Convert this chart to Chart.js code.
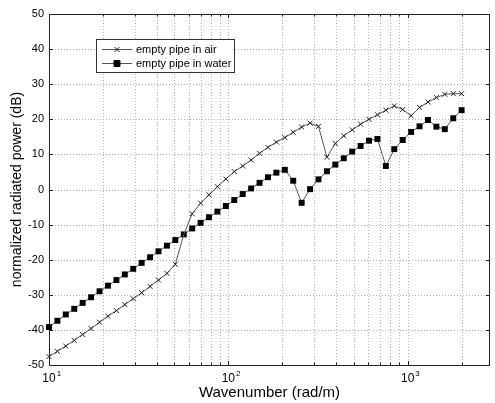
<!DOCTYPE html>
<html>
<head>
<meta charset="utf-8">
<script src="https://cdn.jsdelivr.net/npm/chart.js@4"></script>
<style>
  html, body { margin: 0; padding: 0; background: #fff; }
  canvas { display: block; }
</style>
</head>
<body>
<canvas id="radiatedPowerChart" width="495" height="403"></canvas>
<script>
// Chart data
const wavenumbers = [
    10.00, 11.14, 12.41, 13.83, 15.41, 17.17, 19.14, 21.32, 23.76, 26.47,
    29.49, 32.86, 36.62, 40.80, 45.46, 50.65, 56.43, 62.88, 70.06, 78.06,
    86.97, 96.90, 107.97, 120.30, 134.04, 149.35, 166.40, 185.40, 206.58, 230.17,
    256.45, 285.74, 318.37, 354.73, 395.24, 440.37, 490.66, 546.70, 609.13, 678.69,
    756.20, 842.55, 938.77, 1045.97, 1165.42, 1298.51, 1446.79, 1612.01, 1796.10, 2000.00
];
const airValues = [
    -47.6, -46.1, -44.6, -43.0, -41.3, -39.6, -37.8, -36.1, -34.5, -32.8,
    -31.1, -29.4, -27.6, -25.8, -23.9, -21.3, -12.8, -6.9, -3.9, -1.5,
    0.8, 3.0, 5.1, 6.7, 8.4, 10.3, 12.0, 13.5, 14.8, 16.3,
    17.8, 18.9, 18.0, 9.2, 13.1, 15.3, 17.0, 18.6, 20.0, 21.3,
    22.6, 23.8, 22.8, 21.0, 23.4, 24.9, 26.2, 27.1, 27.3, 27.3
];
const waterValues = [
    -39.2, -37.4, -35.6, -34.0, -32.3, -30.7, -29.0, -27.4, -25.8, -24.2,
    -22.6, -20.9, -19.3, -17.6, -16.0, -14.4, -12.8, -11.1, -9.5, -7.9,
    -6.3, -4.7, -3.0, -1.3, 0.3, 1.9, 3.5, 4.8, 5.6, 2.5,
    -3.8, 0.1, 2.9, 5.2, 7.1, 8.9, 10.8, 12.4, 13.9, 14.4,
    6.7, 11.5, 14.1, 16.4, 18.0, 19.8, 17.9, 17.2, 20.3, 22.6
];
const seriesLabels = ['empty pipe in air', 'empty pipe in water'];

// Axis ticks
const xTicks = [10, 20, 30, 40, 50, 60, 70, 80, 90,
                100, 200, 300, 400, 500, 600, 700, 800, 900,
                1000, 2000];
const xMajorTicks = [10, 100, 1000];
const xTickExponents = ['1', '2', '3'];
const yTicks = [-50, -40, -30, -20, -10, 0, 10, 20, 30, 40, 50];

const FONT = '"Liberation Sans", Arial, Helvetica, sans-serif';

const toPoints = (values) => values.map((v, i) => ({ x: wavenumbers[i], y: v }));

// Dotted grid, box, inward ticks and 10^n labels (MATLAB style)
const framePlugin = {
    id: 'frame',
    beforeDatasetsDraw(chart) {
        const { ctx, chartArea: a, scales: { x, y } } = chart;
        ctx.save();
        ctx.lineWidth = 1;
        ctx.strokeStyle = '#b4b4b4';
        ctx.setLineDash([1, 2]);
        xTicks.forEach(v => {
            const px = Math.round(x.getPixelForValue(v)) + 0.5;
            if (px <= a.left + 1 || px >= a.right - 1) return;
            ctx.beginPath();
            ctx.moveTo(px, a.top);
            ctx.lineTo(px, a.bottom);
            ctx.stroke();
        });
        yTicks.forEach(v => {
            const py = Math.round(y.getPixelForValue(v)) + 0.5;
            if (py <= a.top + 1 || py >= a.bottom - 1) return;
            ctx.beginPath();
            ctx.moveTo(a.left, py);
            ctx.lineTo(a.right, py);
            ctx.stroke();
        });
        ctx.setLineDash([]);

        // tick marks
        ctx.strokeStyle = '#222';
        xTicks.forEach(v => {
            const px = Math.round(x.getPixelForValue(v)) + 0.5;
            const len = xMajorTicks.includes(v) ? 4 : 2.5;
            ctx.beginPath();
            ctx.moveTo(px, a.bottom);
            ctx.lineTo(px, a.bottom - len);
            ctx.moveTo(px, a.top);
            ctx.lineTo(px, a.top + len);
            ctx.stroke();
        });
        yTicks.forEach(v => {
            const py = Math.round(y.getPixelForValue(v)) + 0.5;
            ctx.beginPath();
            ctx.moveTo(a.left, py);
            ctx.lineTo(a.left + 4, py);
            ctx.moveTo(a.right, py);
            ctx.lineTo(a.right - 4, py);
            ctx.stroke();
        });

        // axes box
        ctx.strokeRect(Math.round(a.left) + 0.5, Math.round(a.top) + 0.5,
                       Math.round(a.right - a.left) - 1, Math.round(a.bottom - a.top));

        // x tick labels as 10 with superscript exponent
        ctx.fillStyle = '#000';
        ctx.textBaseline = 'alphabetic';
        xMajorTicks.forEach((v, i) => {
            const px = x.getPixelForValue(v);
            ctx.font = '12px ' + FONT;
            ctx.textAlign = 'center';
            ctx.fillText('10', px, a.bottom + 17);
            const w = ctx.measureText('10').width;
            ctx.font = '8px ' + FONT;
            ctx.textAlign = 'left';
            ctx.fillText(xTickExponents[i], px + w / 2 + 1, a.bottom + 11);
        });
        ctx.restore();
    },
    afterDraw(chart) {
        // legend box inside the axes
        const { ctx } = chart;
        const bx = 96, by = 39, bw = 138, bh = 33;
        ctx.save();
        ctx.fillStyle = '#fff';
        ctx.fillRect(bx, by, bw, bh);
        ctx.strokeStyle = '#333';
        ctx.lineWidth = 1;
        ctx.strokeRect(bx + 0.5, by + 0.5, bw, bh);
        ctx.font = '11px ' + FONT;
        ctx.textBaseline = 'middle';
        chart.data.datasets.forEach((ds, i) => {
            const rowY = by + 10.5 + i * 14;
            ctx.strokeStyle = ds.borderColor;
            ctx.lineWidth = 1;
            ctx.beginPath();
            ctx.moveTo(bx + 6, rowY);
            ctx.lineTo(bx + 36, rowY);
            ctx.stroke();
            ctx.fillStyle = ds.pointBackgroundColor;
            ctx.strokeStyle = ds.pointBorderColor;
            Chart.helpers.drawPoint(ctx, {
                pointStyle: ds.pointStyle,
                radius: ds.pointRadius,
                borderWidth: 1,
                rotation: 0
            }, bx + 21, rowY);
            ctx.fillStyle = '#000';
            ctx.fillText(ds.label, bx + 40, rowY);
        });
        ctx.restore();
    }
};

const ctx = document.getElementById('radiatedPowerChart').getContext('2d');
const chart = new Chart(ctx, {
    type: 'line',
    data: {
        datasets: [{
            label: seriesLabels[0],
            data: toPoints(airValues),
            borderColor: '#555',
            borderWidth: 1,
            pointStyle: 'crossRot',
            pointRadius: 3.5,
            pointBorderWidth: 1,
            pointBorderColor: '#222',
            pointBackgroundColor: '#222',
            tension: 0,
            clip: false
        }, {
            label: seriesLabels[1],
            data: toPoints(waterValues),
            borderColor: '#555',
            borderWidth: 1,
            pointStyle: 'rect',
            pointRadius: 4.2,
            pointBorderWidth: 0,
            pointBorderColor: '#000',
            pointBackgroundColor: '#000',
            tension: 0,
            clip: false
        }]
    },
    options: {
        responsive: false,
        animation: false,
        devicePixelRatio: 1,
        layout: { padding: { top: 14, right: 0, left: 0, bottom: 0 } },
        plugins: {
            legend: { display: false },
            tooltip: { enabled: false }
        },
        scales: {
            x: {
                type: 'logarithmic',
                min: 10,
                max: 2880,
                afterBuildTicks: (scale) => {
                    scale.ticks = xTicks.map(v => ({ value: v }));
                },
                afterFit: (scale) => { scale.height = 38; },
                grid: { display: false, drawTicks: false },
                border: { display: false },
                ticks: { display: false },
                title: {
                    display: true,
                    text: 'Wavenumber (rad/m)',
                    color: '#000',
                    font: { family: FONT, size: 15 },
                    padding: { top: 0, bottom: 1 }
                }
            },
            y: {
                min: -50,
                max: 50,
                afterBuildTicks: (scale) => {
                    scale.ticks = yTicks.map(v => ({ value: v }));
                },
                afterFit: (scale) => { scale.width = 49; },
                grid: { display: false, drawTicks: false },
                border: { display: false },
                ticks: {
                    padding: 5,
                    color: '#000',
                    font: { family: FONT, size: 11 }
                },
                title: {
                    display: true,
                    text: 'normalized radiated power (dB)',
                    color: '#000',
                    font: { family: FONT, size: 14 },
                    padding: { top: 9, bottom: 0 }
                }
            }
        }
    },
    plugins: [framePlugin]
});
</script>
</body>
</html>
